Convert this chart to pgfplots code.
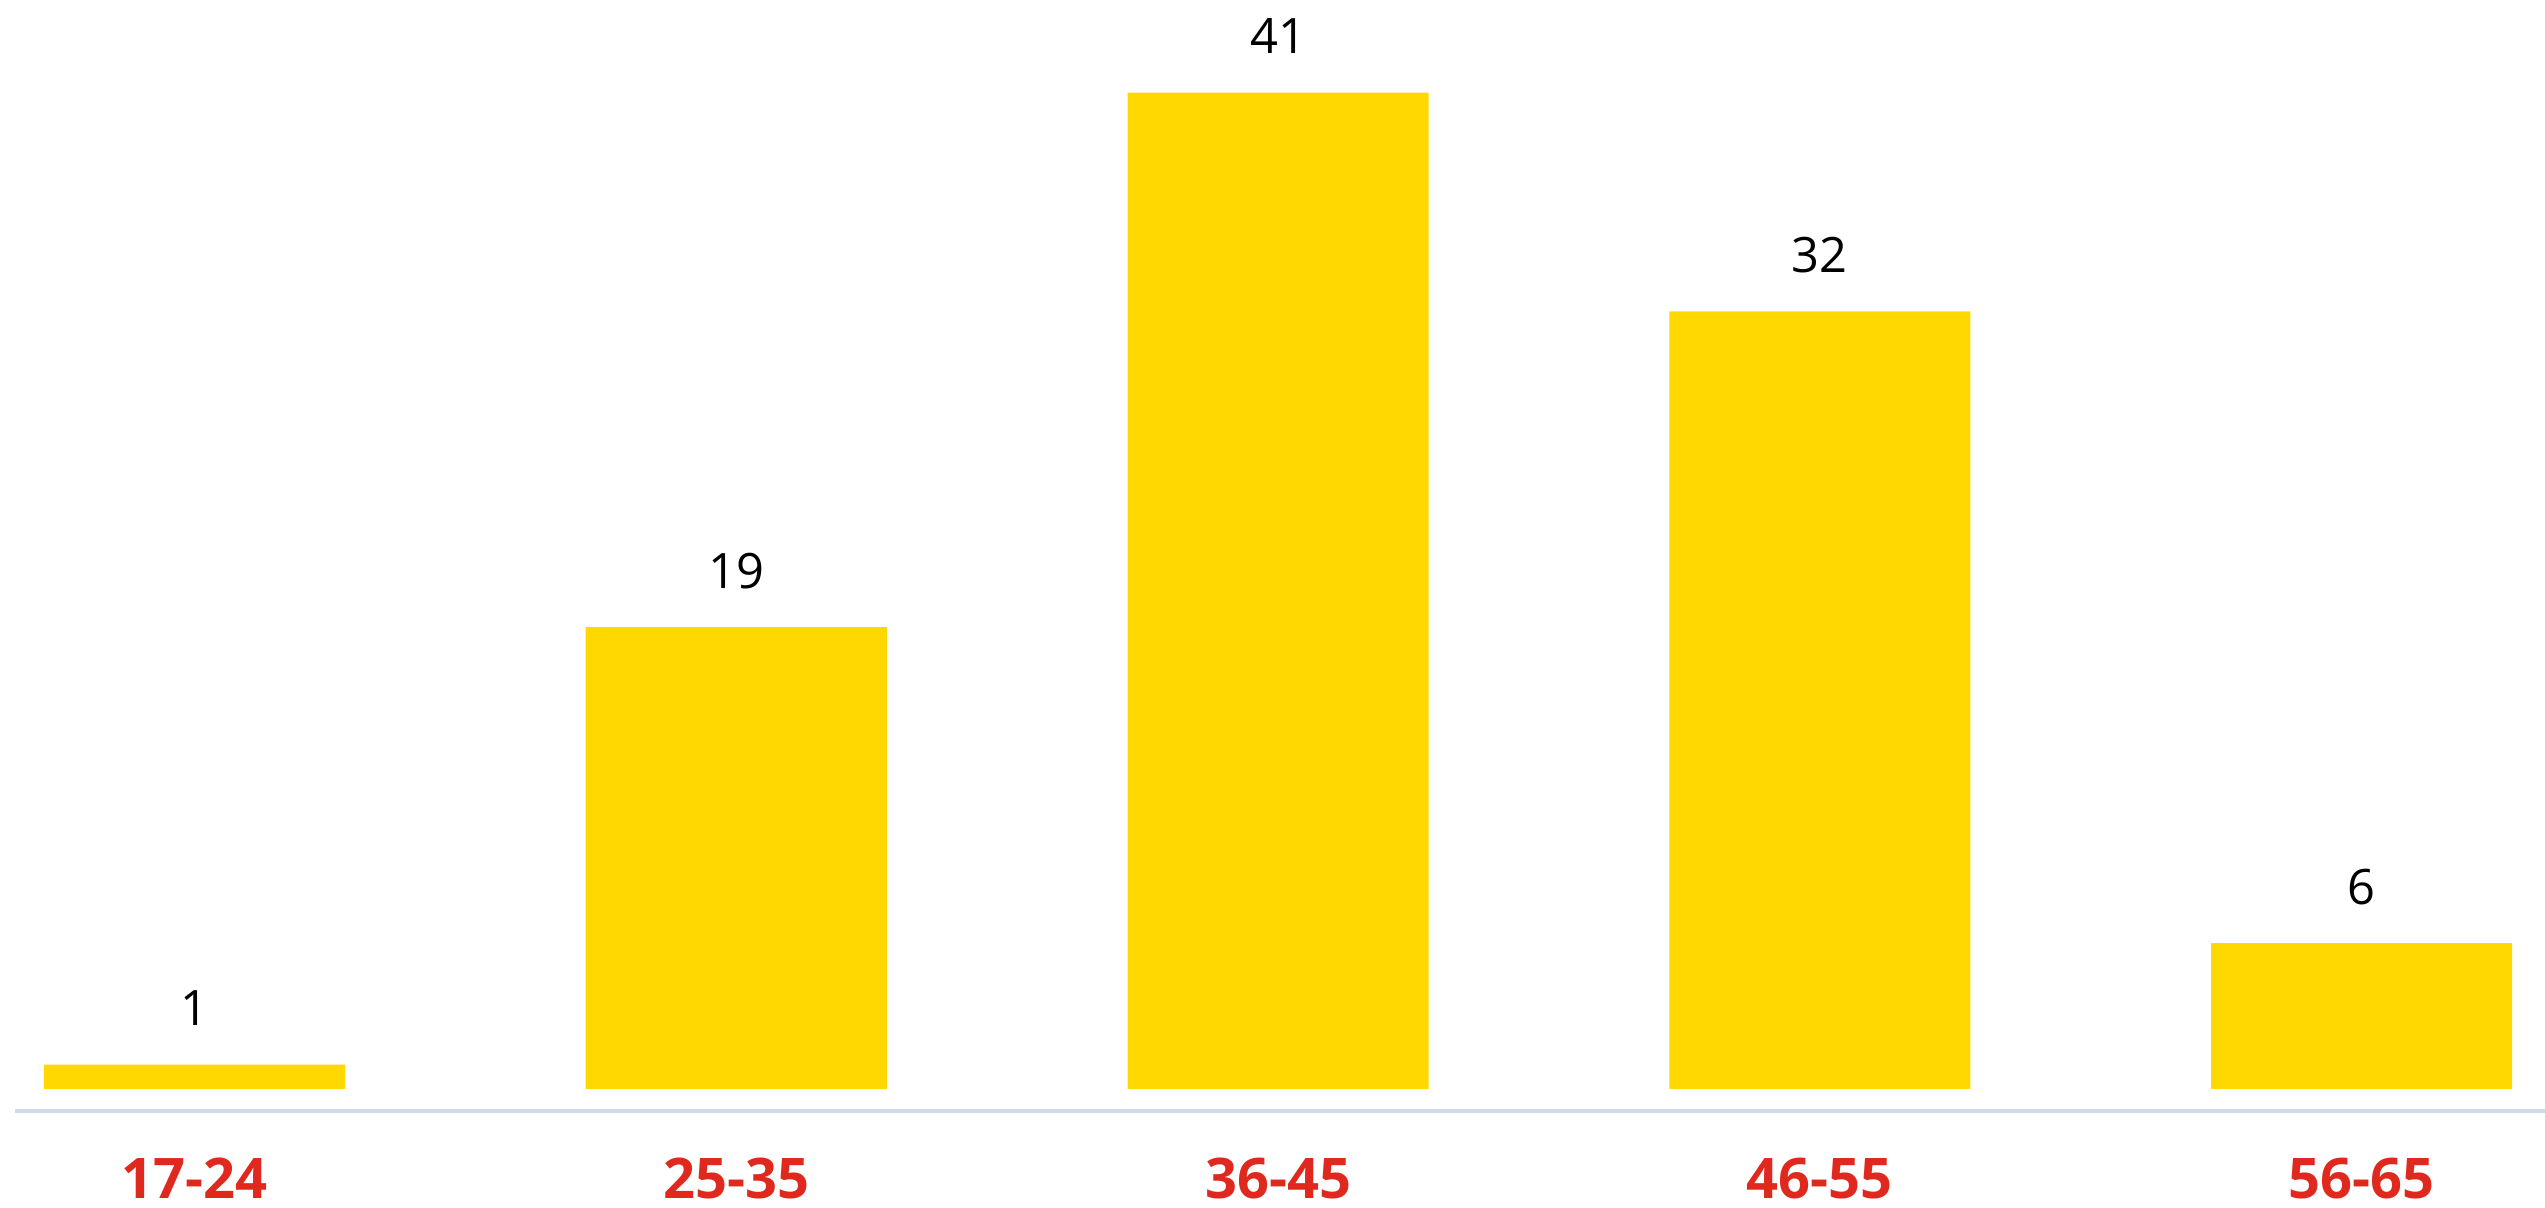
\documentclass[border=0pt]{standalone}
\usepackage{fontspec}
\setmainfont{Open Sans}
\usepackage{pgfplots}
\pgfplotsset{compat=1.18}
\definecolor{baryellow}{RGB}{254,216,0}
\definecolor{labelred}{RGB}{224,41,30}
\definecolor{lineblue}{RGB}{205,219,235}
\newcommand{\lab}[1]{\fontsize{14}{16}\selectfont\bfseries #1}
\begin{document}
\begin{tikzpicture}
\useasboundingbox (0,0) rectangle (636.25pt,302pt);
\begin{axis}[
  at={(3.75pt,0pt)}, anchor=south west,
  scale only axis,
  width=632.5pt, height=302pt,
  xmin=-0.3313, xmax=4.3387,
  ymin=-4.897, ymax=44.81,
  axis line style={draw=none},
  tick style={draw=none},
  major tick length=0pt,
  ytick=\empty,
  xtick={0,1,2,3,4},
  xticklabels={\lab{17-24},\lab{25-35},\lab{36-45},\lab{46-55},\lab{56-65}},
  xticklabel style={anchor=base, yshift=2.4pt, text=labelred},
  /pgf/number format/assume math mode=true,
  clip=false,
]
\addplot[ybar, bar width=75.25pt, fill=baryellow, draw=none,
  nodes near coords,
  every node near coord/.append style={anchor=base, yshift=9.75pt, font=\fontsize{12.2}{14}\selectfont, text=black}]
  coordinates {(0,1) (1,19) (2,41) (3,32) (4,6)};
\addplot[draw=lineblue, line width=1.2pt, forget plot] coordinates {(-0.3313,-0.905) (4.3387,-0.905)};
\end{axis}
\end{tikzpicture}
\end{document}
